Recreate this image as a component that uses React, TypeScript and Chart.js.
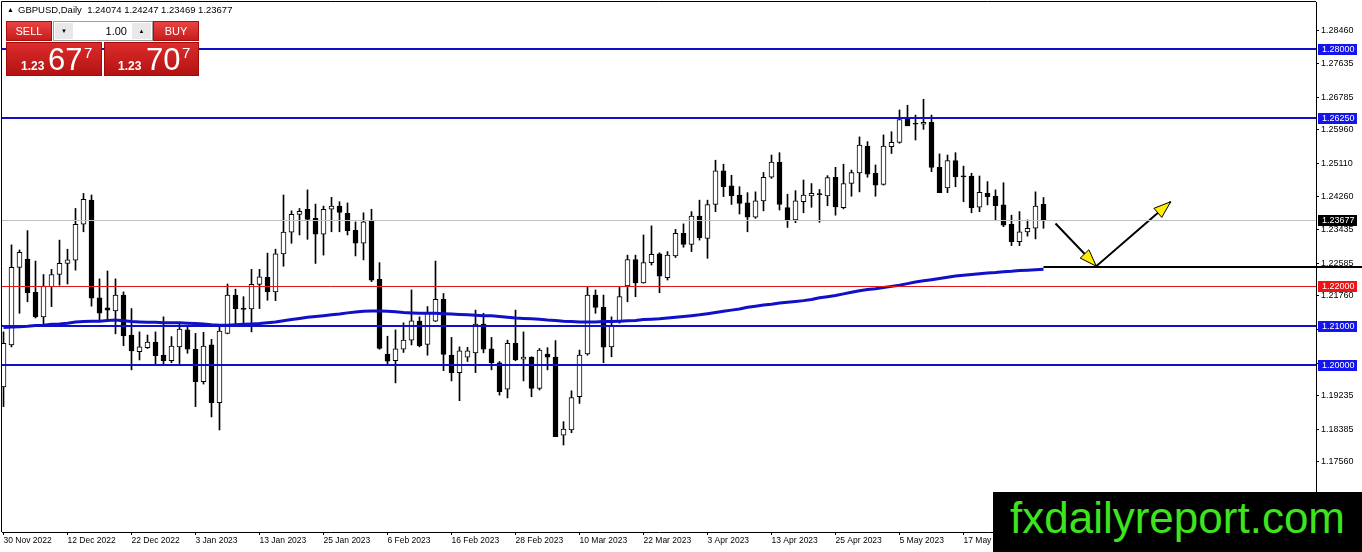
import React, { useEffect, useRef } from "react";
import { Chart, registerables } from "chart.js";

Chart.register(...registerables);

// ---- data (GBPUSD, Daily) ----
const dateLabels = [
  "30 Nov 2022", "12 Dec 2022", "22 Dec 2022", "3 Jan 2023", "13 Jan 2023", "25 Jan 2023",
  "6 Feb 2023", "16 Feb 2023", "28 Feb 2023", "10 Mar 2023", "22 Mar 2023", "3 Apr 2023",
  "13 Apr 2023", "25 Apr 2023", "5 May 2023", "17 May 2023",
];
const dateLabelBars = [0, 8, 16, 24, 32, 40, 48, 56, 64, 72, 80, 88, 96, 104, 112, 120];

const priceTicks = [
  1.2846, 1.27635, 1.26785, 1.2596, 1.2511, 1.2426, 1.23435, 1.22585, 1.2176, 1.2091,
  1.2006, 1.19235, 1.18385, 1.1756, 1.1671,
];

const opens = [
  1.1946, 1.2052, 1.2248, 1.2269, 1.2185, 1.2123, 1.2199, 1.2230, 1.2258, 1.2266,
  1.2357, 1.2418, 1.2171, 1.2146, 1.2138, 1.2178, 1.2077, 1.2035, 1.2045, 1.2059,
  1.2026, 1.2012, 1.2047, 1.2090, 1.2041, 1.1959, 1.2052, 1.1906, 1.2081, 1.2178,
  1.2145, 1.2143, 1.2205, 1.2223, 1.2186, 1.2282, 1.2337, 1.2382, 1.2395, 1.2372,
  1.2332, 1.2395, 1.2403, 1.2385, 1.2342, 1.2309, 1.2365, 1.2218, 1.2029, 1.2012,
  1.2041, 1.2064, 1.2112, 1.2053, 1.2112, 1.2167, 1.2026, 1.1982, 1.2021, 1.2032,
  1.2105, 1.2042, 1.2007, 1.1940, 1.2056, 1.2016, 1.2021, 1.1942, 1.2029, 1.2021,
  1.1824, 1.1837, 1.1921, 1.2029, 1.2178, 1.2147, 1.2047, 1.2111, 1.2201, 1.2268,
  1.2209, 1.2260, 1.2282, 1.2222, 1.2277, 1.2334, 1.2306, 1.2378, 1.2321, 1.2407,
  1.2492, 1.2454, 1.2431, 1.2411, 1.2375, 1.2416, 1.2476, 1.2514, 1.2399, 1.2368,
  1.2414, 1.2429, 1.2433, 1.2429, 1.2476, 1.2399, 1.2460, 1.2487, 1.2555, 1.2486,
  1.2458, 1.2553, 1.2564, 1.2625, 1.2612, 1.2610, 1.2615, 1.2501, 1.2449, 1.2518,
  1.2479, 1.2479, 1.2400, 1.2435, 1.2428, 1.2406, 1.2357, 1.2313, 1.2338, 1.2347,
  1.24074,
];
const highs = [
  1.2085, 1.2305, 1.2292, 1.2341, 1.2264, 1.2230, 1.2243, 1.2317, 1.2294, 1.2397,
  1.2435, 1.2431, 1.2219, 1.2239, 1.2219, 1.2186, 1.2144, 1.2085, 1.2077, 1.2085,
  1.2123, 1.2073, 1.2107, 1.2098, 1.2081, 1.2084, 1.2066, 1.2098, 1.2206, 1.2193,
  1.2174, 1.2243, 1.2243, 1.2284, 1.2294, 1.2431, 1.2391, 1.2397, 1.2444, 1.2408,
  1.2403, 1.2425, 1.2414, 1.2411, 1.2363, 1.2386, 1.2395, 1.2260, 1.2074, 1.2090,
  1.2108, 1.2191, 1.2123, 1.2149, 1.2264, 1.2182, 1.2071, 1.2047, 1.2046, 1.2140,
  1.2132, 1.2071, 1.2010, 1.2064, 1.2140, 1.2085, 1.2022, 1.2043, 1.2045, 1.2063,
  1.1858, 1.1936, 1.2039, 1.2199, 1.2191, 1.2178, 1.2123, 1.2199, 1.2279, 1.2279,
  1.2330, 1.2353, 1.2285, 1.2288, 1.2344, 1.2358, 1.2389, 1.2418, 1.2418, 1.2519,
  1.2509, 1.2481, 1.2452, 1.2437, 1.2439, 1.2488, 1.2532, 1.2538, 1.2433, 1.2442,
  1.2469, 1.2460, 1.2445, 1.2480, 1.2501, 1.2509, 1.2494, 1.2578, 1.2566, 1.2507,
  1.2583, 1.2591, 1.2646, 1.2658, 1.2633, 1.2673, 1.2633, 1.2535, 1.2532, 1.2538,
  1.2504, 1.2486, 1.2479, 1.2465, 1.2444, 1.2462, 1.2380, 1.2389, 1.2368, 1.2439,
  1.24247,
];
const lows = [
  1.1896, 1.2047, 1.2132, 1.2161, 1.2120, 1.2102, 1.2149, 1.2203, 1.2206, 1.2241,
  1.2338, 1.2150, 1.2115, 1.2115, 1.2080, 1.2050, 1.1989, 1.2014, 1.2043, 1.2001,
  1.2001, 1.2007, 1.2005, 1.2031, 1.1896, 1.1953, 1.1870, 1.1837, 1.2080, 1.2105,
  1.2107, 1.2085, 1.2144, 1.2165, 1.2164, 1.2251, 1.2309, 1.2330, 1.2319, 1.2258,
  1.2279, 1.2338, 1.2338, 1.2330, 1.2277, 1.2267, 1.2212, 1.2041, 1.2001, 1.1956,
  1.2033, 1.2052, 1.2047, 1.2026, 1.2111, 1.1987, 1.1961, 1.1911, 1.2010, 1.1982,
  1.2032, 1.1989, 1.1925, 1.1918, 1.2012, 1.1961, 1.1921, 1.1938, 1.1989, 1.1820,
  1.1799, 1.1830, 1.1904, 1.2026, 1.2132, 1.2007, 1.2022, 1.2107, 1.2161, 1.2174,
  1.2208, 1.2254, 1.2184, 1.2216, 1.2273, 1.2299, 1.2288, 1.2317, 1.2271, 1.2389,
  1.2427, 1.2407, 1.2383, 1.2338, 1.2372, 1.2391, 1.2473, 1.2393, 1.2349, 1.2361,
  1.2386, 1.2400, 1.2362, 1.2404, 1.2380, 1.2396, 1.2428, 1.2439, 1.2476, 1.2428,
  1.2456, 1.2536, 1.2562, 1.2606, 1.2570, 1.2597, 1.2490, 1.2437, 1.2437, 1.2452,
  1.2414, 1.2386, 1.2389, 1.2406, 1.2366, 1.2351, 1.2303, 1.2303, 1.2327, 1.2320,
  1.23469,
];
const closes = [
  1.2056, 1.2248, 1.2286, 1.2184, 1.2123, 1.2201, 1.2230, 1.2258, 1.2267, 1.2357,
  1.2420, 1.2170, 1.2132, 1.2140, 1.2178, 1.2075, 1.2037, 1.2047, 1.2059, 1.2025,
  1.2012, 1.2049, 1.2092, 1.2041, 1.1959, 1.2049, 1.1906, 1.2087, 1.2178, 1.2143,
  1.2142, 1.2205, 1.2224, 1.2186, 1.2282, 1.2337, 1.2382, 1.2390, 1.2369, 1.2332,
  1.2395, 1.2403, 1.2387, 1.2341, 1.2309, 1.2363, 1.2216, 1.2043, 1.2011, 1.2042,
  1.2064, 1.2113, 1.2050, 1.2132, 1.2167, 1.2028, 1.1982, 1.2037, 1.2037, 1.2105,
  1.2041, 1.2007, 1.1934, 1.2056, 1.2014, 1.2021, 1.1942, 1.2039, 1.2021, 1.1820,
  1.1839, 1.1919, 1.2026, 1.2178, 1.2147, 1.2046, 1.2102, 1.2174, 1.2268, 1.2209,
  1.2260, 1.2281, 1.2226, 1.2279, 1.2334, 1.2306, 1.2378, 1.2323, 1.2407, 1.2492,
  1.2452, 1.2429, 1.2410, 1.2375, 1.2416, 1.2476, 1.2514, 1.2407, 1.2368, 1.2416,
  1.2431, 1.2435, 1.2432, 1.2475, 1.2401, 1.2460, 1.2488, 1.2557, 1.2484, 1.2456,
  1.2555, 1.2564, 1.2622, 1.2606, 1.2610, 1.2615, 1.2501, 1.2437, 1.2518, 1.2477,
  1.2477, 1.2399, 1.2438, 1.2427, 1.2404, 1.2355, 1.2313, 1.2338, 1.2347, 1.2403,
  1.23677,
];
const movingAverage = [
  1.2096, 1.2097, 1.2098, 1.2099, 1.2101, 1.2102, 1.2104, 1.2105, 1.2107, 1.2110,
  1.2111, 1.2112, 1.2112, 1.2114, 1.2115, 1.2113, 1.2111, 1.2110, 1.2109, 1.2109,
  1.2108, 1.2108, 1.2108, 1.2107, 1.2106, 1.2105, 1.2103, 1.2102, 1.2102, 1.2103,
  1.2104, 1.2105, 1.2106, 1.2108, 1.2110, 1.2113, 1.2116, 1.2119, 1.2122, 1.2124,
  1.2126, 1.2128, 1.2130, 1.2133, 1.2135, 1.2137, 1.2138, 1.2138, 1.2137, 1.2136,
  1.2134, 1.2133, 1.2132, 1.2132, 1.2132, 1.2131, 1.2130, 1.2129, 1.2128, 1.2127,
  1.2126, 1.2126, 1.2124, 1.2122, 1.2120, 1.2119, 1.2118, 1.2117, 1.2115, 1.2114,
  1.2112, 1.2111, 1.2110, 1.2110, 1.2110, 1.2111, 1.2111, 1.2112, 1.2113, 1.2114,
  1.2116, 1.2117, 1.2118, 1.2120, 1.2122, 1.2124, 1.2126, 1.2128, 1.2131, 1.2134,
  1.2137, 1.2140, 1.2143, 1.2147, 1.2150, 1.2153, 1.2155, 1.2158, 1.2160, 1.2162,
  1.2164, 1.2167, 1.2171, 1.2174, 1.2177, 1.2181, 1.2185, 1.2189, 1.2192, 1.2194,
  1.2197, 1.2200, 1.2203, 1.2207, 1.2211, 1.2214, 1.2217, 1.2220, 1.2223, 1.2226,
  1.2228, 1.2230, 1.2232, 1.2234, 1.2235, 1.2237, 1.2238, 1.2240, 1.2241, 1.2242,
  1.2243,
];

const blueLevels = [1.28, 1.2625, 1.21, 1.2];
const redLevel = 1.22;
const bidPrice = 1.23677;
const supportLevel = 1.225;
const supportFromBar = 130;
const arrowBars = [131.5, 136.6, 145.9];
const arrowPrices = [1.2359, 1.2251, 1.2414];

const titleText = "GBPUSD,Daily  1.24074 1.24247 1.23469 1.23677";
const lotSize = "1.00";
const sellPrice = { big: "1.23", main: "67", pip: "7" };
const buyPrice = { big: "1.23", main: "70", pip: "7" };
const watermark = "fxdailyreport.com";

// ---- styling ----
const BLUE = "#1010c8";
const FONT = '"Liberation Sans", Arial, sans-serif';

const zeroPadding = (s: any) => {
  s.paddingTop = 0;
  s.paddingBottom = 0;
  s.paddingLeft = 0;
  s.paddingRight = 0;
};

const overlayPlugin = {
  id: "mt4Overlay",
  afterDatasetsDraw(chart: any) {
    const { ctx, chartArea: a, scales } = chart;
    const y = scales.y;
    ctx.save();
    ctx.beginPath();
    ctx.rect(a.left, a.top, a.right - a.left, a.bottom - a.top);
    ctx.clip();
    const hl = (v: number, color: string, w: number) => {
      const py = Math.round(y.getPixelForValue(v)) + (w % 2 ? 0.5 : 0);
      ctx.strokeStyle = color;
      ctx.lineWidth = w;
      ctx.beginPath();
      ctx.moveTo(a.left, py);
      ctx.lineTo(a.right, py);
      ctx.stroke();
    };
    hl(bidPrice, "#c0c0c0", 1);
    hl(redLevel, "#e01818", 1);
    blueLevels.forEach((v) => hl(v, BLUE, 2));
    ctx.restore();
  },
  afterDraw(chart: any) {
    const { ctx, chartArea: a, scales } = chart;
    const x = scales.x;
    const y = scales.y;
    ctx.save();
    // support line
    const sy = Math.round(y.getPixelForValue(supportLevel));
    ctx.strokeStyle = "#000";
    ctx.lineWidth = 2;
    ctx.beginPath();
    ctx.moveTo(x.getPixelForValue(supportFromBar), sy);
    ctx.lineTo(chart.width, sy);
    ctx.stroke();

    // arrow heads
    const head = (i0: number, i1: number) => {
      const x0 = x.getPixelForValue(arrowBars[i0]);
      const y0 = y.getPixelForValue(arrowPrices[i0]);
      const x1 = x.getPixelForValue(arrowBars[i1]);
      const y1 = y.getPixelForValue(arrowPrices[i1]);
      const ang = Math.atan2(y1 - y0, x1 - x0);
      const len = 17;
      const hw = 6;
      const bx = x1 - len * Math.cos(ang);
      const by = y1 - len * Math.sin(ang);
      const px = -Math.sin(ang) * hw;
      const py = Math.cos(ang) * hw;
      ctx.beginPath();
      ctx.moveTo(x1, y1);
      ctx.lineTo(bx + px, by + py);
      ctx.lineTo(bx - px, by - py);
      ctx.closePath();
      ctx.fillStyle = "#ffee00";
      ctx.fill();
      ctx.lineWidth = 1;
      ctx.strokeStyle = "#000";
      ctx.stroke();
    };
    head(0, 1);
    head(1, 2);

    // price tags on the axis
    const tags = [
      ...blueLevels.map((v) => ({ v, bg: "#1414ee" })),
      { v: redLevel, bg: "#f01414" },
      { v: bidPrice, bg: "#000000" },
    ];
    ctx.font = `9px ${FONT}`;
    ctx.textBaseline = "middle";
    ctx.textAlign = "left";
    tags.forEach((t) => {
      const py = y.getPixelForValue(t.v);
      ctx.fillStyle = t.bg;
      ctx.fillRect(a.right + 2, Math.round(py) - 5, 39, 11);
      ctx.fillStyle = "#fff";
      ctx.fillText(t.v.toFixed(5), a.right + 6, Math.round(py) + 0.5);
    });

    // frame (top / left)
    ctx.strokeStyle = "#000";
    ctx.lineWidth = 1;
    ctx.beginPath();
    ctx.moveTo(a.left - 0.5, a.bottom);
    ctx.lineTo(a.left - 0.5, a.top - 0.5);
    ctx.lineTo(a.right, a.top - 0.5);
    ctx.stroke();
    ctx.restore();
  },
};

export default function App() {
  const ref = useRef<HTMLCanvasElement>(null);

  useEffect(() => {
    document.body.style.margin = "0";
    const canvas = ref.current;
    if (!canvas) return;
    const bodies = opens.map((o, i) => ({ x: i, y: [o, closes[i]] }));
    const wicks = lows.map((l, i) => ({ x: i, y: [l, highs[i]] }));
    const bodyColors = opens.map((o, i) => (closes[i] > o ? "#ffffff" : "#000000"));
    const maPoints = movingAverage.map((v, i) => ({ x: i, y: v }));
    const arrowPoints = arrowBars.map((b, i) => ({ x: b, y: arrowPrices[i] }));

    const chart = new Chart(canvas, {
      type: "bar",
      data: {
        datasets: [
          {
            type: "line",
            data: maPoints,
            borderColor: BLUE,
            borderWidth: 3,
            pointRadius: 0,
            tension: 0,
            order: 0,
          } as any,
          {
            type: "line",
            data: arrowPoints,
            borderColor: "#000",
            borderWidth: 2,
            pointRadius: 0,
            tension: 0,
            order: 0,
          } as any,
          {
            type: "bar",
            data: bodies,
            backgroundColor: bodyColors,
            borderColor: "#000",
            borderWidth: 1,
            borderSkipped: false,
            barThickness: 5,
            grouped: false,
            minBarLength: 1,
            order: 1,
          } as any,
          {
            type: "bar",
            data: wicks,
            backgroundColor: "#000",
            borderWidth: 0,
            barThickness: 1,
            grouped: false,
            order: 2,
          } as any,
        ],
      },
      options: {
        responsive: false,
        animation: false,
        devicePixelRatio: 1,
        events: [],
        layout: { padding: { left: 2, top: 2, right: 0, bottom: 0 } },
        plugins: { legend: { display: false }, tooltip: { enabled: false } },
        scales: {
          x: {
            type: "linear",
            offset: false,
            bounds: "data",
            min: -0.1875,
            max: 164.0625,
            afterBuildTicks: (s: any) => {
              s.ticks = dateLabelBars.map((v) => ({ value: v }));
            },
            afterFit: (s: any) => {
              s.height = 20;
              zeroPadding(s);
            },
            ticks: {
              autoSkip: false,
              maxRotation: 0,
              minRotation: 0,
              align: "start",
              padding: 1,
              color: "#000",
              font: { family: FONT, size: 8.5 },
              callback: (v: any) => {
                const k = dateLabelBars.indexOf(Number(v));
                return k >= 0 ? dateLabels[k] : "";
              },
            },
            grid: { offset: false, drawOnChartArea: false, drawTicks: true, tickLength: 3, color: "#000" },
            border: { display: true, color: "#000", width: 1 },
          },
          y: {
            type: "linear",
            position: "right",
            min: 1.1579,
            max: 1.2919,
            afterBuildTicks: (s: any) => {
              s.ticks = priceTicks.map((v) => ({ value: v }));
            },
            afterFit: (s: any) => {
              s.width = 46;
              zeroPadding(s);
            },
            ticks: {
              autoSkip: false,
              padding: 2,
              color: "#000",
              font: { family: FONT, size: 9 },
              callback: (v: any) => Number(v).toFixed(5),
            },
            grid: { drawOnChartArea: false, drawTicks: true, tickLength: 3, color: "#000" },
            border: { display: true, color: "#000", width: 1 },
          },
        },
      } as any,
      plugins: [overlayPlugin],
    });
    return () => chart.destroy();
  }, []);

  const redTop = "linear-gradient(#e84444, #c81c1c)";
  const redBig = "linear-gradient(#dc2c2c, #b41212)";
  const abs = (s: React.CSSProperties): React.CSSProperties => ({ position: "absolute", ...s });

  return (
    <div style={{ position: "relative", width: 1362, height: 552, overflow: "hidden", background: "#fff", fontFamily: FONT }}>
      <canvas ref={ref} width={1362} height={552} style={{ position: "absolute", left: 0, top: 0, width: 1362, height: 552 }} />

      {/* title */}
      <div style={abs({ left: 7, top: 5, fontSize: 7, lineHeight: "9px", color: "#000" })}>▲</div>
      <div style={abs({ left: 18, top: 5, fontSize: 9.5, lineHeight: "10px", color: "#000", whiteSpace: "pre" })}>{titleText}</div>

      {/* one-click trading panel */}
      <div style={abs({ left: 6, top: 21, width: 46, height: 20, background: redTop, border: "1px solid #a80c0c", boxSizing: "border-box", color: "#fff", fontSize: 11, lineHeight: "18px", textAlign: "center" })}>SELL</div>
      <div style={abs({ left: 53, top: 21, width: 100, height: 20, background: "#fff", border: "1px solid #a0a0a0", boxSizing: "border-box" })}>
        <div style={abs({ left: 1, top: 1, width: 18, height: 16, background: "#e8e8e8", fontSize: 6, lineHeight: "16px", textAlign: "center", color: "#000" })}>▼</div>
        <div style={abs({ right: 25, top: 0, fontSize: 11, lineHeight: "18px", color: "#000" })}>{lotSize}</div>
        <div style={abs({ right: 1, top: 1, width: 19, height: 16, background: "#e8e8e8", fontSize: 6, lineHeight: "16px", textAlign: "center", color: "#000" })}>▲</div>
      </div>
      <div style={abs({ left: 153, top: 21, width: 46, height: 20, background: redTop, border: "1px solid #a80c0c", boxSizing: "border-box", color: "#fff", fontSize: 11, lineHeight: "18px", textAlign: "center" })}>BUY</div>

      <div style={abs({ left: 6, top: 42, width: 96, height: 34, background: redBig, border: "1px solid #a00a0a", boxSizing: "border-box" })} />
      <div style={abs({ left: 104, top: 42, width: 95, height: 34, background: redBig, border: "1px solid #a00a0a", boxSizing: "border-box" })} />

      <div style={abs({ left: 21, top: 60, fontSize: 12, fontWeight: "bold", lineHeight: "12px", color: "#fff" })}>{sellPrice.big}</div>
      <div style={abs({ left: 48, top: 44, fontSize: 31, lineHeight: "31px", color: "#fff" })}>{sellPrice.main}</div>
      <div style={abs({ left: 84, top: 45, fontSize: 15, lineHeight: "15px", color: "#fff" })}>{sellPrice.pip}</div>

      <div style={abs({ left: 118, top: 60, fontSize: 12, fontWeight: "bold", lineHeight: "12px", color: "#fff" })}>{buyPrice.big}</div>
      <div style={abs({ left: 146, top: 44, fontSize: 31, lineHeight: "31px", color: "#fff" })}>{buyPrice.main}</div>
      <div style={abs({ left: 182, top: 45, fontSize: 15, lineHeight: "15px", color: "#fff" })}>{buyPrice.pip}</div>

      {/* watermark */}
      <div style={abs({ left: 993, top: 492, width: 369, height: 60, background: "#000" })}>
        <span style={abs({ left: 17, top: 4, fontSize: 44, lineHeight: "44px", color: "#3ee41e", whiteSpace: "pre" })}>{watermark}</span>
      </div>
    </div>
  );
}
